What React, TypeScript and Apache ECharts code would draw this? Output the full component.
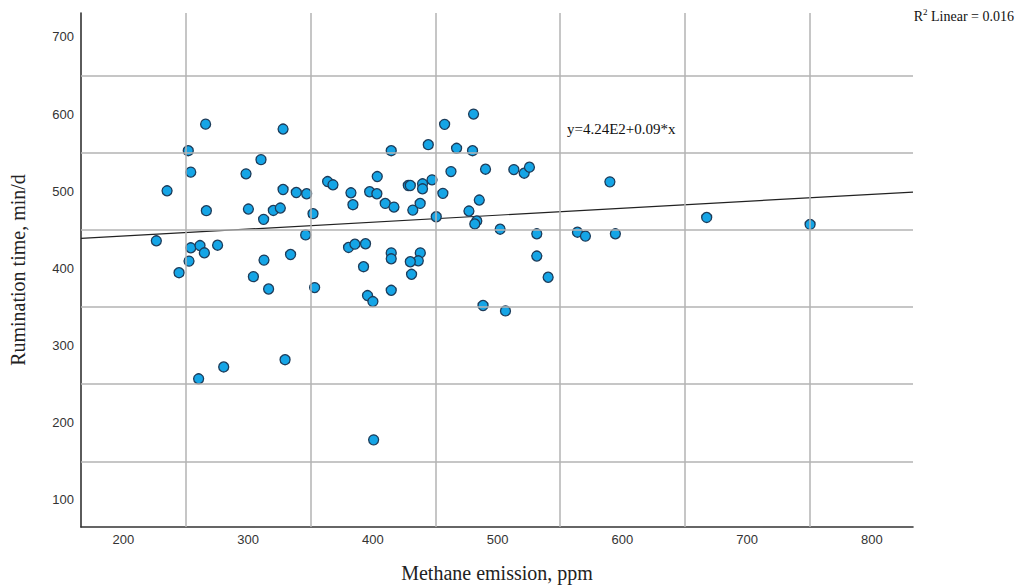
import React, { useEffect, useRef } from "react";
import * as echarts from "echarts";

const methanePpm = [
  265.9, 328, 252, 310.3, 254, 298.3, 235, 328, 338.6, 346.9,
  363.7, 368, 382.4, 397.4, 403.2, 403.5, 384, 266.5, 300.2, 320.2,
  325.8, 312.4, 352, 346.1, 226.4, 254, 261.4, 264.9, 275.5, 252.6,
  244.6, 312.7, 334, 304.2, 316.4, 353.3, 380.5, 385.6, 394.1, 392.5,
  395.7, 400, 280.4, 260.3, 329.6, 400.6, 480.7, 457.5, 444.4, 467.1,
  479.9, 414.7, 462.6, 490.3, 513, 521.3, 525.5, 590, 447.4, 428.4,
  430, 439.8, 439.8, 456.1, 409.9, 416.9, 432, 437.9, 485.3, 477,
  450.8, 483.3, 481.7, 502, 531.4, 564, 570.4, 594.4, 531.4, 540.5,
  414.7, 414.7, 438, 436.4, 430, 431, 414.7, 488.3, 506.3, 667.6,
  750.5,
];
const ruminationMin = [
  587, 580.6, 552.6, 541, 524.8, 522.6, 500.6, 502.3, 498.4, 496.8,
  512.6, 508.4, 498, 499.4, 496.8, 519.1, 482.6, 474.9, 477, 475.2,
  478.3, 463.6, 471, 443.5, 435.8, 426.8, 429.7, 420.3, 430.1, 409.5,
  394.5, 410.8, 418.1, 389.4, 373.4, 375.2, 427.2, 431.5, 432, 402.3,
  364.9, 357.1, 272.4, 257, 281.8, 177.9, 600, 586.7, 560.4, 555.7,
  552.6, 552.6, 525.5, 528.6, 528.1, 523.4, 531.2, 512.2, 514.8, 507.5,
  507.5, 509.7, 503.2, 497.3, 484.3, 479.5, 475.6, 484.3, 488.6, 474.4,
  467, 461.6, 457.7, 450.9, 444.9, 447, 441.9, 444.9, 416.1, 388.6,
  420.2, 412.5, 420.2, 409.9, 408.7, 392.4, 371.7, 352, 345, 466.1,
  457,
];

const xTickLabels = [200, 300, 400, 500, 600, 700, 800];
const yTickLabels = [100, 200, 300, 400, 500, 600, 700];
const xGridValues = [250, 350, 450, 550, 650, 750];
const yGridValues = [150, 250, 350, 450, 550, 650];

const fitLineX = [166, 833];
const fitLineY = [438.9, 499];

const equationText = "y=4.24E2+0.09*x";
const r2Text = "0.016";

export default function App() {
  const ref = useRef<HTMLDivElement>(null);

  useEffect(() => {
    if (!ref.current) return;
    const chart = echarts.init(ref.current, null, { renderer: "svg" });
    const points = methanePpm.map((x, i) => [x, ruminationMin[i]]);
    const gridColor = "#b3b3b3";
    const option: any = {
      animation: false,
      backgroundColor: "#ffffff",
      grid: { left: 81, top: 13, right: 106, bottom: 58, containLabel: false },
      xAxis: {
        type: "value",
        min: 166,
        max: 833,
        name: "Methane emission, ppm",
        nameLocation: "middle",
        nameGap: 36,
        nameTextStyle: { fontFamily: "Liberation Serif", fontSize: 20, color: "#222" },
        axisLine: { show: true, onZero: false, lineStyle: { color: "#333", width: 1.6 } },
        axisTick: { show: false },
        splitLine: { show: false },
        axisLabel: {
          customValues: xTickLabels,
          fontFamily: "Liberation Sans",
          fontSize: 13,
          color: "#333",
          margin: 6,
        },
      },
      yAxis: {
        type: "value",
        min: 65,
        max: 731,
        name: "Rumination time, min/d",
        nameLocation: "middle",
        nameRotate: 90,
        nameGap: 53,
        nameTextStyle: { fontFamily: "Liberation Serif", fontSize: 20, color: "#222" },
        axisLine: { show: true, onZero: false, lineStyle: { color: "#333", width: 1.6 } },
        axisTick: { show: false },
        splitLine: { show: false },
        axisLabel: {
          customValues: yTickLabels,
          fontFamily: "Liberation Sans",
          fontSize: 13,
          color: "#333",
          margin: 7,
        },
      },
      series: [
        {
          type: "line",
          data: [],
          z: 1,
          silent: true,
          markLine: {
            silent: true,
            symbol: ["none", "none"],
            label: { show: false },
            lineStyle: { color: gridColor, width: 1.5, type: "solid" },
            data: [
              ...xGridValues.map((v) => ({ xAxis: v })),
              ...yGridValues.map((v) => ({ yAxis: v })),
            ],
          },
        },
        {
          type: "line",
          z: 2,
          data: fitLineX.map((x, i) => [x, fitLineY[i]]),
          symbol: "none",
          lineStyle: { color: "#222", width: 1.2 },
          silent: true,
        },
        {
          type: "scatter",
          z: 3,
          data: points,
          symbol: "circle",
          symbolSize: 10,
          itemStyle: { color: "#15a5e6", borderColor: "#1d3c5a", borderWidth: 1.3, opacity: 1 },
        },
      ],
      graphic: [
        {
          type: "text",
          left: 567,
          top: 121,
          style: {
            text: equationText,
            fontFamily: "Liberation Serif",
            fontSize: 15,
            fill: "#111",
          },
        },
        {
          type: "text",
          right: 5,
          top: 7,
          style: {
            text: "{b|R}{s|2}{b| Linear = " + r2Text + "}",
            rich: {
              b: { fontFamily: "Liberation Serif", fontSize: 14, fill: "#111", color: "#111", verticalAlign: "bottom" },
              s: { fontFamily: "Liberation Serif", fontSize: 9, fill: "#111", color: "#111", verticalAlign: "top", padding: [0, 0, 7, 0] },
            },
          },
        },
      ],
    };
    chart.setOption(option);
    return () => chart.dispose();
  }, []);

  return <div ref={ref} style={{ width: 1019, height: 588, position: "absolute", left: 0, top: 0 }} />;
}
